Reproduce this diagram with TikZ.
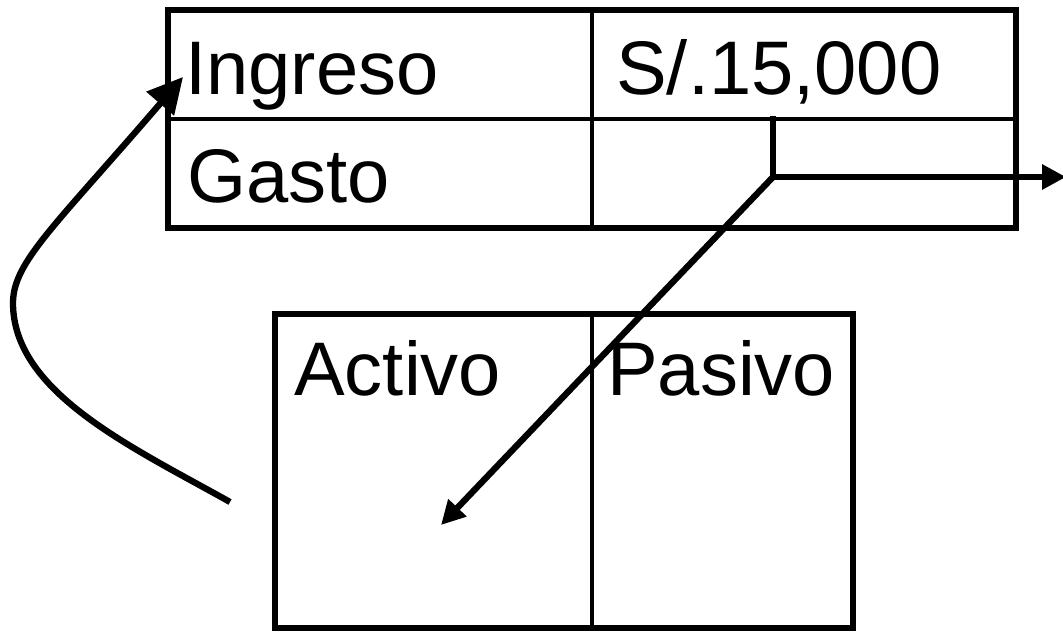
\documentclass[tikz,border=0pt]{standalone}
\usepackage{fontspec}
\setmainfont{Liberation Sans}
\usetikzlibrary{arrows.meta}
\tikzset{
  cuenta/.style={draw, line width=4.3pt, inner sep=0pt, outer sep=0pt},
  regla/.style={line width=2.2pt},
  trazo/.style={line width=4.5pt},
  flecha/.style={trazo, -{Triangle[length=17pt,width=17pt]}},
  flechona/.style={trazo, -{Triangle[length=25pt,width=25pt]}},
  rotulo/.style={anchor=base west, inner sep=0pt, font=\fontsize{54}{60}\selectfont},
}
\begin{document}
\begin{tikzpicture}[x=0.025cm, y=-0.025cm]
  \useasboundingbox (0,0) rectangle (1063,631);
  % cuadro de resultados
  \node[cuenta, minimum width=21.2cm, minimum height=5.45cm] (resultados) at (592,119) {};
  \draw[regla] (resultados.west) -- (resultados.east);
  \draw[regla] (resultados.north) -- (resultados.south);
  \node[rotulo] (ingreso) at (185,94) {Ingreso};
  \node[rotulo] (gasto) at (187,202) {Gasto};
  \node[rotulo] (monto) at (616,94) {S/.15,000};

  % balance
  \node[cuenta, minimum width=14.45cm, minimum height=7.85cm] (balance) at (564,471) {};
  \draw[regla] (balance.north -| resultados.north) -- (balance.south -| resultados.north);
  \node[rotulo] (activo) at (294,395) {Activo};
  \node[rotulo] (pasivo) at (607,395) {Pasivo};

  % flechas
  \coordinate (corte) at (773,116);
  \coordinate (quiebre) at (773,177);
  \coordinate (salida) at (1066,177);
  \coordinate (destino) at (441,525);
  \coordinate (origen) at (230,502);
  \coordinate (llegada) at (183,77);
  \draw[flecha] (corte) -- (quiebre) -- (salida);
  \draw[flecha] (quiebre) -- (destino);
  \draw[flechona] (origen) .. controls (134,448) and (13,393) .. (13,303)
                           .. controls (13,262) and (55,226) .. (llegada);
\end{tikzpicture}
\end{document}
